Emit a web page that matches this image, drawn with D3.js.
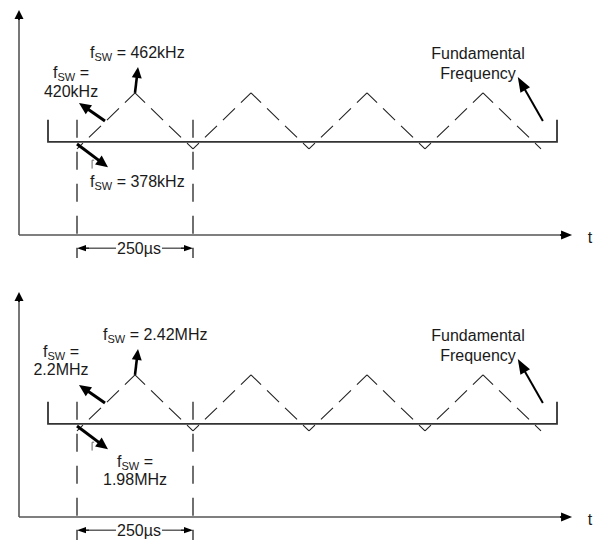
<!DOCTYPE html>
<html><head><meta charset="utf-8">
<script src="https://cdn.jsdelivr.net/npm/d3@7"></script>
<style>
body{margin:0;background:#fff}
svg{display:block}
text{font-family:"Liberation Sans",Arial,Helvetica,sans-serif;fill:#1a1a1a;font-size:16px}
</style>
</head><body><svg id="c" width="598" height="543"></svg>
<script>
// ---------------- data ----------------
const waveTimes = [0, 125, 250, 375, 500, 625, 750, 875, 1000];      // µs
const waveDeviation = [-10, 10, -10, 10, -10, 10, -10, 10, -10];     // % deviation from centre fSW
const periodMarks = [0, 250];                                        // µs
const periodLabel = "250µs";
const centerFreqLabels = ["420kHz", "2.2MHz"];
const maxFreqLabels = ["462kHz", "2.42MHz"];
const minFreqLabels = ["378kHz", "1.98MHz"];
const fundamentalLabel = ["Fundamental", "Frequency"];
const timeAxisLabel = "t";
// annotation arrows, [time µs, deviation %]
const maxArrow = [[125, 10], [131.5, 19.3]];
const centerArrow = [[60.3, 0], [4.3, 6.4]];
const minArrow = [[0, -8.2], [66.8, -16.5]];
const fundamentalArrow = [[1004, 0], [950, 15.7]];
const smallTick = [[32.5, -17.0], [32.5, -14.0], [37, -14.0]];
// extents [time µs] and [deviation %]
const timeExtent = [-125, 1067];
const devExtent = [-40.7, 39.6];
const baselineTime = [-62.5, 1034.5];
const baselineDev = -7.5;
const bracketTopDev = 0.4;
const markDevExtent = [0.4, -48.9];
const periodDimDev = -45.4;

// ---------------- layout ----------------
const W = 598, H = 543;
const panelOffsets = [0, 282];
const svg = d3.select("#c");
svg.append("rect").attr("width", W).attr("height", H).attr("fill", "#fff");

const x = d3.scaleLinear().domain([0, 250]).range([77, 193]);

function arrow(g, p1, p2, o) {
  const [x1, y1] = p1, [x2, y2] = p2;
  const dx = x2 - x1, dy = y2 - y1, L = Math.hypot(dx, dy), ux = dx / L, uy = dy / L;
  const bx = x2 - ux * o.headLen, by = y2 - uy * o.headLen;
  g.append("line").attr("x1", x1).attr("y1", y1).attr("x2", bx + ux).attr("y2", by + uy)
    .attr("stroke", o.color).attr("stroke-width", o.w);
  g.append("path")
    .attr("d", `M${x2},${y2}L${bx - uy * o.headW},${by + ux * o.headW}L${bx + uy * o.headW},${by - ux * o.headW}Z`)
    .attr("fill", o.color);
}

function fswText(g, xPos, yPos, value, anchor) {
  const t = g.append("text").attr("x", xPos).attr("y", yPos).attr("text-anchor", anchor || "start");
  t.append("tspan").text("f");
  t.append("tspan").attr("font-size", 11).attr("dy", 3).text("SW");
  t.append("tspan").attr("dy", -3).text(" =" + (value ? " " + value : ""));
  return t;
}

panelOffsets.forEach((off, i) => {
  const g = svg.append("g");
  const y = d3.scaleLinear().domain(devExtent).range([235 + off, 10 + off]);
  const axisColor = "#555";

  // y axis
  g.append("line").attr("x1", x(timeExtent[0])).attr("x2", x(timeExtent[0]))
    .attr("y1", y(devExtent[0])).attr("y2", y(devExtent[1]) + 8)
    .attr("stroke", axisColor).attr("stroke-width", 1.6);
  arrow(g, [x(timeExtent[0]), y(devExtent[1]) + 10], [x(timeExtent[0]), y(devExtent[1])],
    { w: 1.6, headLen: 9, headW: 4.5, color: "#000" });
  // x axis
  g.append("line").attr("x1", x(timeExtent[0])).attr("x2", x(timeExtent[1]) - 8)
    .attr("y1", y(devExtent[0])).attr("y2", y(devExtent[0]))
    .attr("stroke", axisColor).attr("stroke-width", 1.6);
  arrow(g, [x(timeExtent[1]) - 12, y(devExtent[0])], [x(timeExtent[1]), y(devExtent[0])],
    { w: 1.6, headLen: 11, headW: 4.5, color: "#000" });
  g.append("text").attr("x", x(timeExtent[1]) + 18).attr("y", y(devExtent[0]) + 8)
    .attr("text-anchor", "middle").text(timeAxisLabel);

  // baseline with end brackets
  g.append("path")
    .attr("d", d3.line()([
      [x(baselineTime[0]), y(bracketTopDev)], [x(baselineTime[0]), y(baselineDev)],
      [x(baselineTime[1]), y(baselineDev)], [x(baselineTime[1]), y(bracketTopDev)]]))
    .attr("fill", "none").attr("stroke", "#333").attr("stroke-width", 1.8);

  // period marks (dashed verticals)
  periodMarks.forEach(t => {
    g.append("line").attr("x1", x(t)).attr("x2", x(t))
      .attr("y1", y(markDevExtent[0])).attr("y2", y(markDevExtent[1]))
      .attr("stroke", "#111").attr("stroke-width", 1.2).attr("stroke-dasharray", "18,14");
  });

  // triangle wave, each half-period drawn from trough to peak
  const pts = waveTimes.map((t, k) => [x(t), y(waveDeviation[k])]);
  const pat = [8.3, 8.3, 16.7, 8.3, 16.7, 8.3, 14];
  for (let k = 0; k < pts.length - 1; k++) {
    let a = pts[k], b = pts[k + 1];
    if (waveDeviation[k] > waveDeviation[k + 1]) { [a, b] = [b, a]; }
    const L = Math.hypot(b[0] - a[0], b[1] - a[1]);
    const s = L / d3.sum(pat);
    g.append("path").attr("d", d3.line()([a, b]))
      .attr("fill", "none").attr("stroke", "#222").attr("stroke-width", 1.1)
      .attr("stroke-dasharray", pat.map(v => (v * s).toFixed(2)).join(",") + ",40");
  }

  // annotation arrows
  const P = p => [x(p[0]), y(p[1])];
  arrow(g, P(maxArrow[0]), P(maxArrow[1]), { w: 2.6, headLen: 11, headW: 5, color: "#000" });
  arrow(g, P(centerArrow[0]), P(centerArrow[1]), { w: 3, headLen: 12, headW: 5.5, color: "#000" });
  arrow(g, P(minArrow[0]), P(minArrow[1]), { w: 3, headLen: 12, headW: 5.5, color: "#000" });
  arrow(g, P(fundamentalArrow[0]), P(fundamentalArrow[1]), { w: 2, headLen: 15, headW: 5.5, color: "#000" });
  // small tick beside the min arrow
  g.append("path").attr("d", d3.line()(smallTick.map(P)))
    .attr("fill", "none").attr("stroke", "#666").attr("stroke-width", 1);

  // labels
  if (i === 0) {
    fswText(g, 90, 58 + off, maxFreqLabels[i]);
    fswText(g, 71, 78 + off, "", "middle");
    g.append("text").attr("x", 71).attr("y", 97 + off).attr("text-anchor", "middle").text(centerFreqLabels[i]);
    fswText(g, 90, 187 + off, minFreqLabels[i]);
  } else {
    fswText(g, 103, 58 + off, maxFreqLabels[i]);
    fswText(g, 61, 75 + off, "", "middle");
    g.append("text").attr("x", 61).attr("y", 93 + off).attr("text-anchor", "middle").text(centerFreqLabels[i]);
    fswText(g, 135, 185 + off, "", "middle");
    g.append("text").attr("x", 135).attr("y", 203 + off).attr("text-anchor", "middle").text(minFreqLabels[i]);
  }
  g.append("text").attr("x", 478).attr("y", 59 + off).attr("text-anchor", "middle").text(fundamentalLabel[0]);
  g.append("text").attr("x", 478).attr("y", 79 + off).attr("text-anchor", "middle").text(fundamentalLabel[1]);

  // period dimension
  const dy = y(periodDimDev), xa = x(periodMarks[0]), xb = x(periodMarks[1]);
  const lbl = g.append("text").attr("x", (xa + xb) / 2 + 4).attr("y", dy + 6)
    .attr("text-anchor", "middle").text(periodLabel);
  const bb = lbl.node().getBBox();
  g.append("line").attr("x1", xa + 6).attr("x2", bb.x - 1).attr("y1", dy).attr("y2", dy)
    .attr("stroke", "#111").attr("stroke-width", 1);
  g.append("line").attr("x1", bb.x + bb.width + 1).attr("x2", xb - 6).attr("y1", dy).attr("y2", dy)
    .attr("stroke", "#111").attr("stroke-width", 1);
  arrow(g, [xa + 12, dy], [xa, dy], { w: 1, headLen: 9, headW: 3.2, color: "#000" });
  arrow(g, [xb - 12, dy], [xb, dy], { w: 1, headLen: 9, headW: 3.2, color: "#000" });
});
</script>
</body></html>
